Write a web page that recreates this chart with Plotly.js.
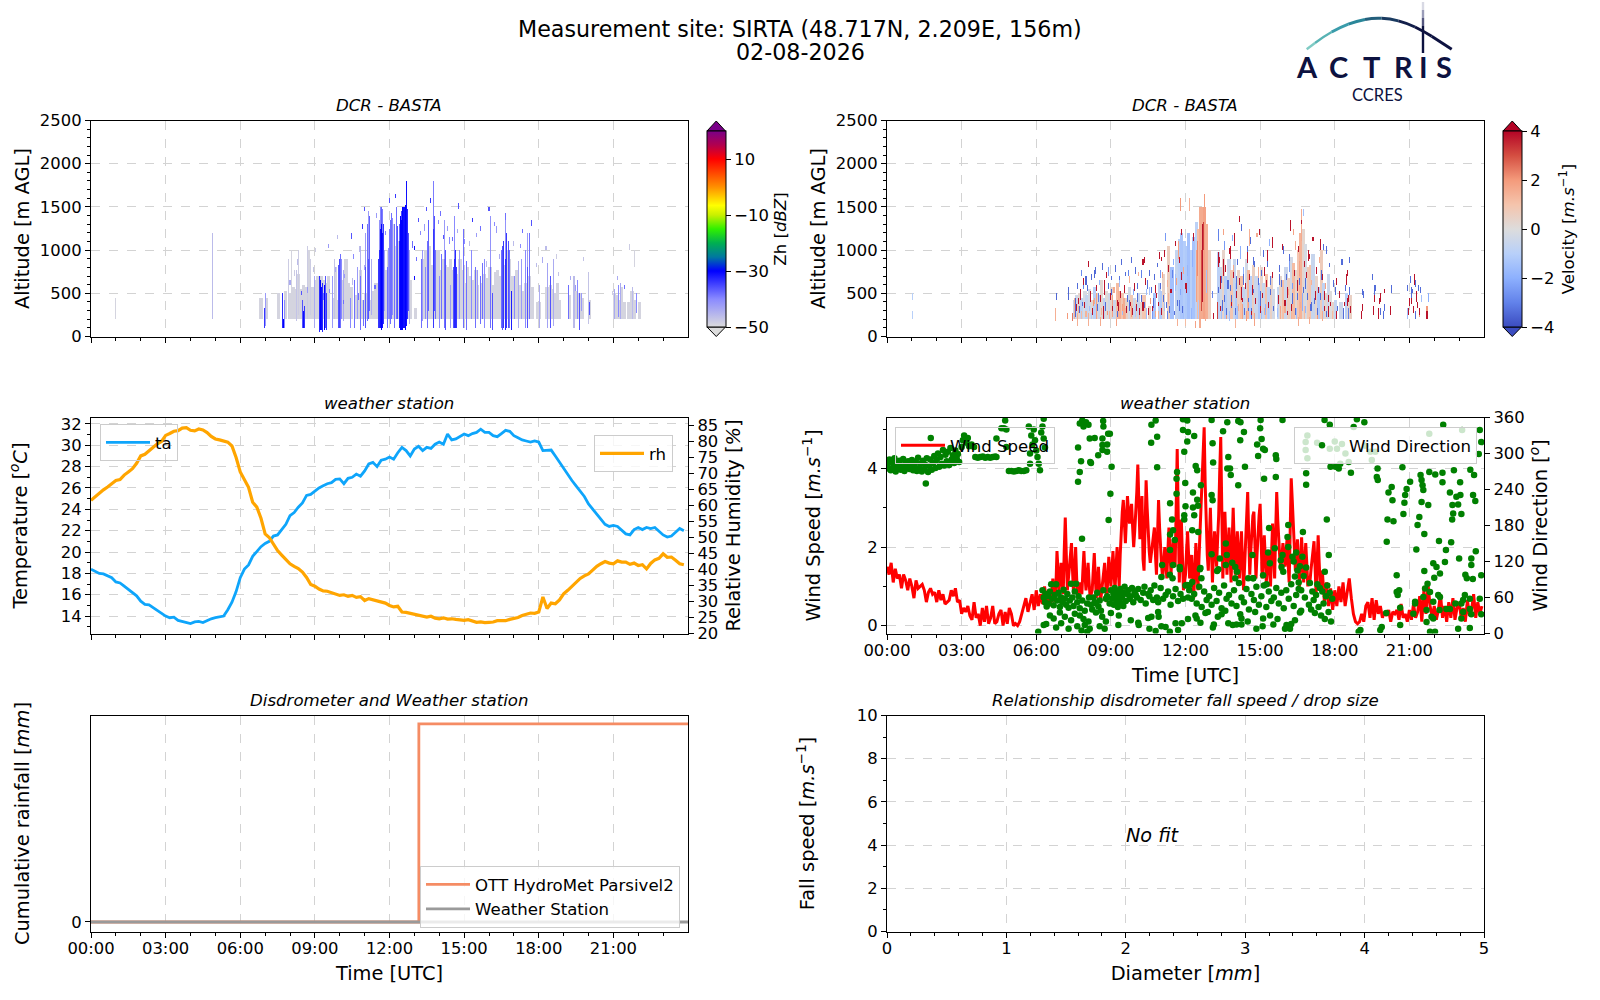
<!DOCTYPE html>
<html>
<head>
<meta charset="utf-8">
<script src="https://cdn.plot.ly/plotly-3.0.1.min.js"></script>
<style>body{margin:0;background:#fff}</style>
</head>
<body>
<div id="chart" style="width:1600px;height:1000px"></div>
<script>
// hour tick labels shared by the time axes
var hourTicks = [0, 3, 6, 9, 12, 15, 18, 21];
var hourLabels = ["00:00", "03:00", "06:00", "09:00", "12:00", "15:00", "18:00", "21:00"];
var hourMinor = [1, 2, 4, 5, 7, 8, 10, 11, 13, 14, 16, 17, 19, 20, 22, 23];

// radar reflectivity, top of the faint echo in metres, one value every 0.1 h from 06:42
var zhColumnStart = 6.7;
var zhColumnTop = [0, 430, 0, 440, 0, 0, 0, 0, 500, 0,
  0, 520, 0, 480, 560, 530, 720, 540, 600, 560,
  1000, 560, 560, 640, 680, 700, 640, 620, 680, 0,
  430, 800, 420, 400, 640, 880, 620, 560, 0, 460,
  500, 760, 420, 500, 0, 420, 520, 620, 0, 380,
  720, 760, 1000, 1200, 1300, 1050, 1100, 1000, 900, 760,
  700, 640, 0, 320, 0, 0, 900, 980, 780, 1050,
  820, 1000, 980, 760, 880, 820, 780, 900, 760, 800,
  720, 900, 760, 620, 780, 700, 640, 760, 600, 0,
  620, 720, 660, 780, 600, 740, 760, 700, 800, 820,
  1000, 900, 700, 640, 760, 580, 520, 620, 600, 700,
  560, 0, 400, 400, 0, 0, 560, 600, 540, 500,
  620, 420, 0, 0, 0, 460, 0, 520, 480, 500,
  430, 0, 0, 420, 0, 0, 0, 0, 0, 0,
  0, 0, 0, 480, 460, 420, 560, 400, 0, 400,
  520, 420, 0, 400];

// stronger echoes as vertical streaks (hours, metres, dBZ)
var zhStreakTime = [1.0, 4.88, 6.95, 7.0, 7.72, 7.75, 7.8, 7.95, 8.05, 8.25, 8.35, 8.48, 8.55, 8.6, 8.7, 8.85,
  9.0, 9.15, 9.2, 9.25, 9.3, 9.38, 9.42, 9.47, 9.7, 9.8, 9.95, 10, 10.05, 10.1, 10.17,
  10.4, 10.6, 10.7, 10.85, 10.95, 11.05, 11.12, 11.18, 11.22, 11.3,
  11.55, 11.6, 11.63, 11.67, 11.7, 11.74, 11.8, 11.9, 11.95, 12, 12.05, 12.1, 12.14, 12.2, 12.28, 12.35,
  12.42, 12.46, 12.5, 12.54, 12.58, 12.62, 12.66, 12.7, 12.74, 12.8,
  13.3, 13.35, 13.45, 13.55, 13.6, 13.77, 13.8, 13.85, 14, 14.1, 14.2, 14.25, 14.45, 14.6, 14.62, 14.66, 14.7, 14.85, 14.95,
  15.1, 15.3, 15.45, 15.55, 15.68, 15.75, 15.85, 16.05, 16.12, 16.48, 16.55, 16.6, 16.65, 16.68, 16.72, 16.78, 16.85, 16.9,
  17.05, 17.15, 17.3, 17.45, 17.55, 17.62, 18.05, 18.35, 18.45, 18.6, 19.2, 19.4, 19.55, 19.62, 19.7, 20, 20.05, 21.05, 21.2, 21.3, 21.75, 21.92, 21.85,
  11.63, 11.67, 11.7, 11.6, 12.5, 12.42, 10.85, 11.18, 11.05, 13.77, 14.62, 16.68, 16.05, 14.2, 16.65, 17.55];
var zhStreakBase = [200, 200, 100, 140, 120, 100, 110, 200, 300, 180, 260, 120, 100, 120, 200, 260,
  100, 60, 80, 90, 70, 80, 100, 90, 120, 210, 110, 120, 110, 200, 180,
  100, 120, 220, 90, 130, 100, 180, 200, 300, 250,
  120, 100, 110, 80, 100, 160, 300, 110, 200, 210, 150, 200, 260, 120, 220, 210,
  100, 80, 85, 90, 100, 80, 130, 200, 300, 160,
  100, 180, 210, 110, 300, 100, 300, 200, 100, 200, 100, 90, 100, 100, 100, 100, 120, 200, 100,
  90, 210, 120, 210, 150, 200, 100, 120, 90, 100, 90, 100, 85, 90, 100, 100, 100, 85,
  200, 120, 200, 100, 120, 220, 100, 120, 110, 130, 200, 110, 200, 90, 300, 160, 250, 220, 240, 220, 220, 280, 800,
  1250, 1300, 1200, 1000, 1350, 1100, 700, 900, 800, 1250, 900, 1100, 800, 900, 900, 800];
var zhStreakTop = [440, 1200, 320, 480, 500, 200, 420, 900, 1000, 760, 1000, 420, 280, 350, 1050, 880,
  700, 680, 650, 560, 620, 600, 680, 500, 700, 880, 820, 900, 950, 880, 760,
  450, 640, 800, 1050, 420, 1180, 1300, 1450, 1400, 900,
  900, 1350, 1480, 1500, 1470, 1300, 1000, 800, 1020, 1250, 1340, 1420, 1360, 1300, 1500, 1260,
  1300, 1380, 1450, 1500, 1500, 1520, 1780, 1460, 1200, 1000,
  900, 980, 800, 1100, 1340, 1780, 1400, 1000, 700, 950, 1350, 1000, 600, 780, 1400, 1000, 800, 1000, 1250,
  860, 1000, 800, 760, 700, 850, 900, 1400, 500, 1000, 1050, 1100, 1350, 1420, 1200, 1100, 1000, 520,
  700, 860, 900, 1000, 1200, 1180, 600, 840, 700, 900, 600, 700, 650, 500, 500, 750, 400, 550, 600, 620, 560, 500, 1000,
  1480, 1500, 1470, 1350, 1450, 1300, 1050, 1450, 1180, 1780, 1400, 1420, 1400, 1350, 1350, 1200];
var zhStreakValue = [-49, -46, -34, -42, -33, -30, -40, -48, -49, -47, -48, -36, -31, -34, -48, -48,
  -44, -33, -30, -31, -33, -30, -36, -34, -42, -47, -36, -35, -38, -40, -44,
  -40, -38, -42, -38, -38, -36, -38, -36, -37, -44,
  -34, -33, -31, -30, -31, -34, -43, -38, -41, -39, -38, -38, -40, -38, -38, -36,
  -32, -30, -30, -30, -31, -30, -31, -33, -36, -44,
  -38, -42, -40, -38, -37, -34, -36, -38, -40, -38, -38, -36, -42, -36, -33, -33, -34, -42, -38,
  -38, -40, -38, -42, -38, -38, -40, -38, -36, -38, -36, -34, -35, -33, -34, -36, -38, -32,
  -40, -44, -42, -40, -36, -38, -44, -43, -36, -44, -38, -46, -40, -36, -42, -47, -36, -44, -40, -44, -46, -40, -49,
  -40, -37, -39, -41, -35, -37, -45, -42, -42, -39, -40, -38, -41, -42, -41, -42];

// isolated radar gates above the main echo
var zhDotTime = [8.0, 8.15, 8.3, 8.45, 8.7, 8.95, 9.05, 9.35, 9.55, 9.6, 9.85, 9.9, 10.15, 10.2, 10.45, 10.5, 10.55, 10.75, 10.8, 10.9, 11.0, 11.02, 11.4, 11.45, 11.85, 12.0, 12.25, 12.9, 13.0, 13.02, 13.1, 13.15, 13.25, 13.4, 13.5, 13.65, 13.95, 14.05, 14.15, 14.35, 14.4, 14.55, 14.75, 14.8, 15.0, 15.2, 15.35, 15.5, 15.65, 15.9, 16.0, 16.2, 16.3, 16.4, 17.0, 17.25, 17.35, 17.7, 17.9, 18.15, 18.3, 18.7, 18.8, 19.3, 19.45, 19.8, 20.95, 21.15, 21.45, 21.65];
var zhDotAlt = [600, 720, 840, 480, 520, 760, 980, 440, 1030, 500, 760, 1130, 380, 680, 1140, 620, 900, 440, 990, 1250, 1460, 780, 560, 1380, 1180, 1560, 1600, 1040, 660, 1000, 880, 1330, 1180, 1240, 1460, 1560, 1300, 1400, 1130, 1230, 1090, 1100, 1210, 1490, 1080, 1050, 1330, 1150, 1230, 820, 1460, 1280, 1220, 900, 1060, 1030, 1210, 1290, 800, 870, 1000, 900, 700, 660, 540, 880, 480, 660, 560, 1020];
var zhDotValue = [-44, -48, -46, -36, -42, -47, -48, -38, -42, -40, -44, -46, -38, -42, -36, -46, -40, -38, -46, -34, -36, -44, -38, -42, -40, -36, -34, -38, -31, -31, -38, -36, -40, -42, -36, -34, -40, -38, -36, -42, -40, -38, -44, -36, -40, -46, -34, -42, -38, -46, -36, -40, -42, -44, -46, -40, -38, -36, -46, -44, -46, -48, -47, -44, -42, -47, -48, -44, -38, -48];

// radar Doppler velocity, one value every 0.1 h from 07:30 (metres, m/s)
var velColumnStart = 7.5;
var velColumnTop = [420, 460, 500, 440, 520,
  470, 540, 420, 560, 500, 470, 640, 430, 520, 480,
  560, 420, 620, 520, 480, 440, 430, 560, 460, 430,
  420, 500, 400, 460, 0, 340, 0, 480, 0, 620,
  520, 720, 0, 1050, 800, 0, 1000, 1120, 1200, 1100,
  1050, 1200, 1000, 1150, 1320, 1250, 1500, 1480, 1300, 1000,
  0, 0, 0, 960, 800, 1000, 700, 880, 760, 900,
  620, 760, 700, 560, 900, 760, 680, 820, 700, 620,
  800, 620, 720, 560, 680, 540, 0, 560, 700, 640,
  800, 660, 920, 840, 760, 1000, 1180, 1240, 1060, 780,
  820, 940, 700, 560, 1000, 620, 480, 720, 520, 400,
  420, 0, 380, 0, 500, 440, 460];
var velColumnValue = [-0.6, -0.4, 0.3, -0.8, -0.2,
  -0.7, -0.3, 0.2, -1.0, 0.4, -0.6, 0.2, -0.9, 0.1, -0.4,
  0.4, -0.5, 1.2, 1.5, 0.9, 1.6, 0.5, -0.3, 0.8, -0.5,
  0.5, -0.6, 0.3, 0.9, -0.4, 0.6, -0.9, -1.4, 0.2, -0.8,
  -1.2, 0.4, -1.4, 0.6, -1.5, 0.5, -0.7, -1.0, -1.3, -1.1,
  -1.2, -1.5, -1.0, -1.4, -0.9, 1.2, 1.6, 1.8, 1.5, 0.6,
  0, 0, 0, -0.9, -0.4, 0.4, -1.1, -0.5, 0.9, -0.6,
  -1.2, 0.5, 1.1, -0.7, -0.3, 1.3, -1.0, 0.6, -0.5, -1.3,
  0.4, -0.6, 1.0, -0.8, 0.5, -0.3, 0, -0.7, 0.3, 1.1,
  -0.5, 0.6, -0.3, 1.2, 0.2, 0.9, 1.4, 0.3, -0.2, 0.8,
  1.0, -0.6, 0.4, -1.2, 0.7, -0.8, 0.3, -0.5, 0, 0.4,
  -0.7, 0.3, -0.5, 0.8, -1.0, 0.2, 0.5];

var velStreakTime = [1.05, 1.03, 6.8, 6.85, 7.25, 7.3, 7.45, 7.55, 7.6, 7.65, 7.7, 7.75, 7.8, 7.85, 7.9, 7.95, 8.0, 8.1, 8.15, 8.2, 8.3, 8.35, 8.4, 8.5, 8.6, 8.7, 8.75, 8.8, 8.9, 8.95,
  9.05, 9.1, 9.2, 9.3, 9.35, 9.45, 9.55, 9.6, 9.7, 9.75, 9.85, 9.95, 10.0, 10.1, 10.15, 10.25, 10.3, 10.35, 10.4, 10.45, 10.55, 10.65, 10.7, 10.8, 10.9, 10.95, 11.0, 11.05, 11.15, 11.2, 11.3, 11.35, 11.45,
  11.6, 11.65, 11.7, 11.75, 11.8, 11.85, 11.9, 12, 12.05, 12.1, 12.15, 12.25, 12.3, 12.35, 12.42, 12.46, 12.5, 12.54, 12.58, 12.62, 12.66, 12.7, 12.75, 12.8, 12.85, 13.1, 13.12,
  13.3, 13.32, 13.35, 13.4, 13.45, 13.5, 13.55, 13.6, 13.65, 13.7, 13.75, 13.8, 13.85, 13.9, 13.95, 14, 14.05, 14.1, 14.15, 14.2, 14.25, 14.3, 14.35, 14.45, 14.5, 14.55, 14.6, 14.65, 14.7, 14.75, 14.8, 14.9, 14.95, 15.0, 15.05, 15.15, 15.2, 15.3, 15.35, 15.4, 15.5,
  15.7, 15.75, 15.8, 15.85, 15.95, 16.0, 16.1, 16.15, 16.2, 16.25, 16.3, 16.4, 16.45, 16.5, 16.55, 16.6, 16.65, 16.7, 16.75, 16.8, 16.85, 16.95, 17.0, 17.1, 17.2, 17.3, 17.4, 17.45, 17.5, 17.6, 17.65, 17.75,
  17.9, 18.05, 18.1, 18.35, 18.45, 18.5, 18.55, 18.6, 19.1, 19.15, 19.55, 19.6, 19.75, 19.85, 19.95, 20.25, 20.3, 20.9, 21.0, 21.1, 21.2, 21.25, 21.3, 21.4, 21.45, 21.7, 21.75];
var velStreakBase = [200, 440, 190, 430, 200, 440, 180, 200, 240, 140, 380, 280, 440, 210, 560, 330, 620, 140, 420, 200, 350, 680, 220, 420, 130, 220, 560, 300, 700, 200,
  480, 240, 130, 300, 640, 260, 500, 220, 700, 320, 240, 540, 230, 400, 200, 680, 300, 870, 200, 560, 480, 200, 340, 520, 200, 900, 680, 880, 300, 1100, 200, 380, 680,
  540, 130, 900, 300, 1450, 650, 210, 130, 500, 700, 1450, 200, 800, 1100, 100, 400, 700, 200, 120, 300, 400, 1000, 1500, 180, 500, 450, 200,
  200, 800, 1100, 560, 210, 300, 700, 1000, 200, 560, 180, 900, 330, 700, 1060, 100, 560, 210, 1340, 900, 430, 210, 620, 180, 850, 300, 1050, 210, 490, 830, 140, 650, 1180, 360, 210, 700, 260, 880, 200, 600, 1040,
  230, 380, 610, 200, 950, 290, 470, 760, 1240, 200, 380, 1000, 220, 530, 140, 720, 1100, 320, 1400, 220, 570, 880, 160, 300, 430, 210, 1000, 650, 180, 440, 960, 240,
  200, 480, 210, 220, 620, 350, 220, 490, 220, 460, 250, 480, 200, 420, 200, 250, 500, 200, 350, 450, 600, 220, 400, 240, 500, 200, 400];
var velStreakTop = [300, 490, 320, 500, 260, 560, 260, 440, 450, 260, 430, 330, 530, 300, 660, 400, 700, 260, 520, 270, 410, 760, 500, 500, 220, 330, 640, 390, 780, 280,
  540, 470, 200, 380, 700, 340, 580, 320, 770, 420, 340, 620, 350, 480, 300, 770, 400, 920, 320, 640, 560, 300, 450, 600, 280, 960, 760, 920, 400, 1180, 300, 480, 760,
  720, 180, 1100, 420, 1600, 740, 340, 200, 620, 820, 1600, 320, 1000, 1200, 170, 1000, 1100, 420, 180, 1000, 1300, 1320, 1640, 300, 760, 520, 260,
  400, 960, 1240, 700, 330, 420, 880, 1100, 300, 640, 300, 1040, 460, 820, 1180, 200, 680, 340, 1400, 1040, 560, 360, 760, 280, 1000, 440, 1240, 320, 590, 920, 260, 780, 1240, 520, 300, 780, 360, 1000, 310, 700, 1130,
  310, 470, 710, 290, 1030, 380, 560, 860, 1340, 320, 480, 1080, 320, 640, 220, 860, 1460, 480, 1460, 340, 660, 1000, 220, 400, 520, 300, 1120, 760, 300, 520, 1050, 340,
  290, 560, 300, 310, 720, 440, 310, 560, 290, 520, 330, 580, 320, 500, 280, 350, 580, 320, 440, 560, 720, 300, 520, 320, 560, 300, 480];
var velStreakValue = [-1, -1, 1.5, -3.5, 2, -3.5, 2.5, 1.5, -3.5, 1.5, 3.8, -3.5, 3.8, 1.2, -3, 3.8, -3.5, 1.5, 3.8, -1.2, 2, -3.5, 1.8, -3, 1.6, 3.8, 3.8, -3.5, -2.5, 1.4,
  -3.5, 1.8, 1.8, 3.8, -3.2, -1.5, 3.8, 1.4, -3, -3.4, 2, 3.8, -1.2, -3.4, 1.5, -3, 3.8, 3.8, -1.5, -3.4, -1.5, -2.5, -3.4, 3.8, 1.4, 3.8, -2.5, 3.8, -1.5, -2.5, -3, 1.5, -3,
  -1.5, 1.5, 1.8, -3.2, 2, 3.8, -1.5, 1.2, 3.8, -1.8, 1.5, -1.8, -2, 3.8, 1.8, 1.8, 2.2, -1.2, 1.6, 3, 3.8, 3.2, 2, 1.6, -1.5, -3, 3.8,
  3.2, 3.8, -3, 3.8, -1.5, -3.4, 3.8, -2.5, 2, -3.4, -1.5, 3.8, -3.4, 1.6, 3.8, 1.4, -3.4, -1.5, 3.8, -2, 3.8, 1.8, -3.4, 2, 3.8, -3.4, 1.5, -3.4, 3.8, -3.4, 1.8, 1.5, 3.8, -3.4, -1.5, 3.8, -2, 3.8, -1.2, -3.2, 3.8,
  -1.5, 3.8, -3.4, 1.6, -3.4, 1.6, 3.8, -2.5, 3.8, 1.4, -3.4, 1.6, -1.5, 3.8, 1.6, 1.8, 1.6, -2, -1.5, 1.2, -3.4, 3.8, 1.6, -3.4, 3.8, 2, 3.8, -3.4, 1.6, 3.8, -3.4, 3.8,
  1.2, -3.4, 3.8, -3.4, 3.8, 3.8, -3, -3.4, 3.8, -3.4, 3.8, -3.4, 3.8, 3.8, -3.4, 3.8, -3.4, -1.5, 3.8, -3.4, 3.8, -3.4, 3.8, 2, -3.4, 3.8, -2];

var velDotTime = [7.62, 7.68, 7.72, 7.78, 7.83, 7.87, 7.93, 7.98, 8.03, 8.07, 8.13, 8.18, 8.22, 8.27, 8.33, 8.38, 8.43, 8.47, 8.53, 8.57, 8.63, 8.67, 8.73, 8.78, 8.83, 8.87, 8.93, 8.98,
  9.03, 9.08, 9.13, 9.17, 9.23, 9.27, 9.33, 9.38, 9.43, 9.47, 9.53, 9.58, 9.63, 9.67, 9.73, 9.78, 9.83, 9.87, 9.93, 9.98,
  10.03, 10.08, 10.13, 10.18, 10.23, 10.28, 10.33, 10.38, 10.43, 10.48, 10.53, 10.58, 10.63, 10.68, 10.73, 10.78, 10.83, 10.88, 10.93, 10.98,
  11.03, 11.08, 11.13, 11.18, 11.23, 11.28, 11.33, 11.38, 11.43, 11.48, 11.53, 11.58, 11.63, 11.68, 11.73, 11.78, 11.83, 11.88, 11.93, 11.98,
  13.33, 13.37, 13.43, 13.47, 13.53, 13.58, 13.63, 13.67, 13.73, 13.78, 13.83, 13.87, 13.93, 13.98,
  14.03, 14.08, 14.13, 14.18, 14.23, 14.28, 14.33, 14.38, 14.43, 14.48, 14.53, 14.58, 14.63, 14.68, 14.73, 14.78, 14.83, 14.88, 14.93, 14.98,
  15.03, 15.08, 15.13, 15.18, 15.23, 15.28, 15.33, 15.38, 15.43, 15.48, 15.53, 15.73, 15.78, 15.83, 15.88, 15.93, 15.98,
  16.03, 16.08, 16.13, 16.18, 16.23, 16.28, 16.33, 16.38, 16.43, 16.48, 16.53, 16.58, 16.63, 16.68, 16.73, 16.78, 16.83, 16.88, 16.93, 16.98,
  17.03, 17.08, 17.13, 17.18, 17.23, 17.28, 17.33, 17.38, 17.43, 17.48, 17.53, 17.58, 17.63, 17.68, 17.73, 17.78, 17.85, 17.95,
  18.07, 18.13, 18.2, 18.28, 18.38, 18.42, 18.48, 18.53, 18.58, 18.63, 19.12, 19.14, 19.5, 19.57, 19.62, 19.78, 19.82, 19.98, 20.02, 20.92, 20.97, 21.03, 21.08, 21.13, 21.18, 21.23, 21.28, 21.33, 21.38, 21.43, 21.48, 21.72];
var velDotAlt = [320, 560, 280, 470, 720, 350, 610, 240, 530, 810, 300, 460, 660, 260, 390, 730, 540, 310, 600, 420, 270, 780, 480, 340, 690, 250, 570, 430,
  650, 300, 520, 760, 370, 240, 590, 460, 830, 310, 510, 700, 280, 420, 640, 350, 860, 260, 480, 740,
  310, 560, 700, 260, 420, 830, 340, 610, 480, 260, 720, 390, 520, 300, 660, 230, 450, 800, 350, 570,
  260, 680, 410, 940, 330, 590, 760, 280, 500, 840, 250, 1050, 620, 360, 870, 480, 1180, 290, 730, 560,
  520, 860, 300, 640, 1180, 420, 760, 260, 960, 540, 350, 1120, 680, 260,
  470, 830, 310, 620, 1240, 400, 740, 270, 560, 980, 340, 660, 1090, 250, 500, 820, 380, 1150, 610, 290,
  720, 450, 930, 270, 580, 810, 340, 1060, 480, 690, 300, 420, 760, 280, 590, 1020, 360,
  660, 250, 480, 880, 310, 560, 1180, 720, 270, 430, 990, 620, 340, 1300, 520, 810, 280, 690, 440, 900,
  310, 600, 1100, 380, 740, 260, 520, 870, 430, 670, 1010, 300, 560, 240, 410, 800, 350, 580,
  620, 300, 460, 830, 350, 540, 720, 410, 860, 290, 480, 320, 670, 420, 540, 380, 260, 500, 320, 540, 260, 640, 380, 500, 290, 580, 440, 330, 540, 260, 410, 300];
var velDotValue = [3.8, -3.4, 1.5, 3.8, -2.8, -3.4, 3.8, 1.4, -3.4, 3.8, -1.5, 3.8, -3.4, 3.8, 1.6, -3.4, 3.8, -3.4, -1.8, 3.8, 1.5, -3.4, 3.8, -3.4, 3.8, 2, -3.4, 3.8,
  -3.4, 3.8, 1.6, -3.4, 3.8, -3.4, -1.5, 3.8, -3.4, 1.8, 3.8, -3.4, 3.8, -3.4, 1.4, 3.8, -3.4, 3.8, -2, -3.4,
  3.8, -3.4, 1.5, 3.8, -3.4, 3.8, -3.4, 3.8, -1.6, 3.8, -3.4, 2, -3.4, 3.8, -3.4, 1.6, 3.8, -3.4, 3.8, -3.4,
  3.8, 1.8, -3.4, 3.8, -3.4, 1.5, 3.8, -3.4, 3.8, -2, -3.4, 3.8, 1.8, -3.4, 3.8, -2.2, 3.8, -3.4, 1.6, 3.8,
  -3.4, 3.8, 3.8, -3.4, 1.8, -3.4, 3.8, -3.4, 3.8, -3.4, 3.8, -2, 3.8, -3.4,
  3.8, -3.4, 1.5, 3.8, -3.4, 3.8, -2, -3.4, 3.8, -3.4, 1.8, 3.8, -3.4, 3.8, -3.4, -3.4, 3.8, 1.6, -3.4, 3.8,
  -3.4, 3.8, -3.4, 1.5, 3.8, -3.4, 3.8, -2, -3.4, 3.8, -3.4, 3.8, -3.4, 1.8, -3.4, 3.8, 3.8,
  -3.4, 3.8, 1.6, -3.4, 3.8, -2.4, 1.8, 3.8, -3.4, -3.4, 3.8, -3.4, 1.6, 3.8, -3.4, 3.8, -1.8, 3.8, -3.4, 3.8,
  -3.4, 1.5, 3.8, -3.4, 3.8, -3.4, 3.8, 1.6, -3.4, 3.8, -3.4, 3.8, 1.8, -3.4, 3.8, -3.4, 3.8, -3.4,
  3.8, -3.4, 3.8, -3.4, 3.8, -3.4, 3.8, 3.8, -3.4, 3.8, -3.4, 3.8, -3.4, 3.8, -3.4, 3.8, -3.4, 3.8, -3.4, -3.4, 3.8, -3.4, 3.8, -3.4, 3.8, -3.4, 3.8, 3.8, -3.4, 3.8, -1.5, 2];

// weather station, one value every 10 minutes
var temperature = [18.4, 18.2, 18.0, 17.95, 17.8, 17.6,
  17.2, 17.1, 16.8, 16.5, 16.2, 15.9,
  15.4, 15.1, 15.05, 14.8, 14.5, 14.3,
  14.0, 13.85, 13.9, 13.6, 13.5, 13.4,
  13.3, 13.45, 13.5, 13.4, 13.6, 13.75,
  13.85, 13.9, 14.0, 14.6, 15.3, 16.3,
  17.6, 18.4, 18.8, 19.6, 20.0, 20.5,
  20.8, 21.0, 21.5, 21.6, 22.1, 22.6,
  23.4, 23.7, 24.2, 24.6, 25.3, 25.4,
  25.7, 26.0, 26.2, 26.4, 26.5, 26.8,
  26.85, 26.4, 26.9, 27.0, 27.3, 27.1,
  27.6, 28.25, 28.4, 28.0, 28.6, 28.7,
  28.9, 28.7, 29.3, 29.8, 29.5, 29.0,
  29.65, 29.9, 29.5, 29.8, 29.7, 30.1,
  30.3, 30.1, 31.05, 30.5, 30.6, 30.8,
  31.05, 30.9, 31.1, 31.2, 31.5, 31.2,
  31.2, 30.9, 30.8, 31.1, 31.4, 31.3,
  30.9, 30.7, 30.5, 30.4, 30.3, 30.4,
  30.3, 29.5, 29.5, 29.55, 29.0, 28.4,
  27.9, 27.3, 26.7, 26.2, 25.7, 25.2,
  24.5, 24.0, 23.6, 23.1, 22.6, 22.4,
  22.5, 22.4, 22.0, 21.7, 21.6, 22.1,
  22.3, 22.1, 22.3, 22.2, 22.3, 21.9,
  21.6, 21.4, 21.5, 21.85, 22.2, 22.0];
var humidity = [61.6, 62.8, 63.9, 64.9, 65.8, 66.9,
  67.8, 68.1, 69.5, 70.5, 71.5, 73.2,
  75.5, 76.0, 77.1, 78.2, 79.3, 80.0,
  81.9, 82.5, 83.2, 83.4, 84.2, 84.3,
  83.5, 83.3, 83.9, 83.6, 82.8, 81.6,
  80.8, 80.5, 80.1, 79.8, 78.6, 75.0,
  70.5, 68.0, 65.7, 61.0, 59.5, 56.0,
  51.1, 50.0, 47.8, 45.9, 44.5, 43.2,
  41.8, 41.0, 40.3, 39.2, 37.5, 35.3,
  34.8, 33.9, 33.3, 33.2, 32.8, 32.4,
  31.9, 32.1, 31.6, 31.9, 31.3, 31.5,
  30.3, 30.9, 30.5, 30.3, 29.9, 29.5,
  28.75, 28.3, 28.5, 26.7, 26.6, 26.3,
  26.1, 25.9, 25.4, 25.1, 25.4, 24.8,
  24.6, 24.9, 24.5, 24.6, 24.4, 24.2,
  24.1, 24.3, 23.9, 23.5, 23.6, 23.4,
  23.5, 23.6, 24.0, 24.1, 24.0, 24.4,
  24.6, 25.0, 25.6, 26.1, 26.4, 26.3,
  26.7, 31.4, 27.8, 29.5, 29.3, 30.5,
  32.4, 33.5, 34.8, 36.0, 37.2, 38.0,
  38.6, 39.8, 41.0, 41.8, 42.5, 42.0,
  41.8, 42.7, 42.3, 42.3, 41.6, 42.0,
  41.25, 41.5, 40.2, 41.9, 43.0, 43.5,
  44.9, 43.8, 43.9, 42.9, 41.8, 41.5];

// wind speed, one value every 5 minutes
var windSpeed = [1.5, 1.3, 1.6, 1.1, 1.45, 1.2, 1.3, 0.95, 1.3, 1.15, 0.9, 1.2,
  1.0, 0.7, 1.15, 0.95, 1.0, 1.05, 0.9, 0.6, 0.85, 0.95, 0.8, 0.85,
  0.6, 0.9, 0.65, 0.8, 0.55, 0.6, 0.65, 0.9, 0.75, 0.95, 0.6, 0.65,
  0.3, 0.45, 0.35, 0.5, 0.25, 0.15, 0.6, 0.2, 0.3, 0.0, 0.45, 0.1,
  0.5, 0.05, 0.2, 0.5, 0.05, 0.1, 0.3, 0.4, 0.0, 0.35, 0.05, 0.45,
  0.3, 0.0, 0.05, 0.0, 0.1, 0.3, 0.5, 0.7, 0.35, 0.6, 0.8, 0.4,
  0.9, 0.5, 0.8, 0.55, 1.0, 0.6, 0.75, 0.5, 1.2, 0.6, 1.9, 0.9,
  1.6, 0.8, 2.75, 0.9, 1.5, 2.1, 0.8, 2.0, 0.7, 1.1, 0.8, 1.9,
  0.9, 1.6, 0.7, 0.9, 1.85, 0.7, 1.5, 0.6, 1.1, 1.6, 0.6, 1.75,
  1.0, 1.9, 0.9, 2.0, 1.0, 2.6, 3.2, 2.1, 3.3, 2.6, 3.1, 2.0,
  2.8, 4.1, 2.2, 3.3, 1.4, 3.7, 2.3, 1.6, 2.0, 2.5, 1.3, 3.2,
  1.9, 1.2, 2.0, 1.2, 2.5, 1.3, 2.2, 1.5, 4.5, 1.1, 2.7, 0.9,
  1.3, 2.4, 1.2, 1.8, 0.7, 2.1, 0.9, 2.4, 4.0, 5.05, 2.2, 1.4,
  3.0, 1.1, 2.4, 1.5, 2.8, 4.8, 1.2, 2.9, 1.3, 2.5, 1.1, 3.0,
  1.3, 2.4, 1.2, 2.4, 0.9, 2.1, 3.4, 1.3, 2.5, 2.9, 1.2, 2.4,
  3.1, 1.2, 2.3, 1.1, 1.9, 1.0, 2.6, 1.2, 3.4, 2.0, 1.4, 2.1,
  1.5, 2.2, 1.1, 3.75, 2.7, 1.4, 2.2, 1.0, 2.25, 1.1, 2.1, 1.0,
  1.1, 1.7, 2.15, 0.8, 2.3, 1.0, 1.4, 0.6, 1.1, 0.5, 0.95, 0.4,
  0.9, 0.5, 1.0, 0.6, 1.1, 0.5, 0.8, 1.2, 0.7, 0.3, 0.1, 0.05,
  0.1, 0.3, 0.1, 0.5, 0.6, 0.2, 0.7, 0.15, 0.65, 0.3, 0.5, 0.2,
  0.35, 0.25, 0.4, 0.1, 0.35, 0.3, 0.4, 0.15, 0.55, 0.2, 0.3, 0.1,
  0.4, 0.15, 0.55, 0.2, 0.35, 0.75, 0.1, 0.9, 0.3, 1.05, 0.5, 0.2,
  0.5, 0.15, 0.4, 0.8, 0.2, 0.5, 0.1, 0.6, 0.2, 0.7, 0.15, 0.45,
  0.6, 0.2, 0.45, 0.1, 0.65, 0.25, 0.4, 0.8, 0.2, 0.6, 0.3, 0.5];

// gusty part of the day, the samples between the 5 minute ones (06:00 to 18:00)
var windBetweenStart = 6;
var windBetween = [0.7, 0.65, 0.7, 0.8, 0.8, 0.75, 0.6, 0.85, 0.9, 1.0, 1.4, 1.2,
  1.1, 1.9, 1.8, 1.2, 1.8, 1.4, 1.4, 1.2, 0.9, 0.95, 1.4, 1.3,
  1.2, 1.1, 0.8, 1.4, 1.2, 1.1, 1.0, 0.85, 1.4, 1.1, 1.2, 1.4,
  1.4, 1.4, 1.5, 1.5, 1.8, 2.9, 2.7, 2.7, 2.9, 2.9, 2.5, 2.4,
  3.4, 3.1, 2.8, 1.7, 2.5, 3.0, 1.9, 1.8, 2.3, 1.8, 2.3, 2.5,
  1.5, 1.6, 1.6, 1.9, 1.9, 1.8, 1.8, 3.0, 2.8, 1.9, 1.8, 1.1,
  1.9, 1.8, 1.5, 1.2, 1.4, 1.5, 1.7, 3.2, 4.6, 3.6, 1.8, 2.3,
  2.0, 1.8, 2.0, 2.2, 3.9, 3.0, 2.0, 2.1, 1.9, 1.8, 2.1, 2.1,
  1.8, 1.8, 1.9, 1.6, 1.5, 2.8, 2.3, 1.9, 2.8, 2.0, 1.8, 2.8,
  2.1, 1.8, 1.7, 1.5, 1.5, 1.8, 1.9, 2.4, 2.7, 1.7, 1.8, 1.8,
  1.9, 1.6, 2.4, 3.2, 2.0, 1.8, 1.6, 1.6, 1.7, 1.6, 1.6, 1.2,
  1.4, 1.9, 1.5, 1.6, 1.6, 1.2, 1.0, 0.85, 0.8, 0.75, 0.65, 0.65];

// wind direction samples (hour, degrees)
var dirTime = [0.0, 0.05, 0.1, 0.15, 0.2, 0.25, 0.3, 0.35, 0.4, 0.45, 0.5, 0.55, 0.6, 0.65, 0.7, 0.75, 0.8, 0.85, 0.9, 0.95,
  1.0, 1.05, 1.1, 1.15, 1.2, 1.25, 1.3, 1.35, 1.4, 1.45, 1.5, 1.56, 1.55, 1.6, 1.65, 1.7, 1.76, 1.75, 1.8, 1.85, 1.9, 1.95,
  2.0, 2.05, 2.1, 2.15, 2.2, 2.25, 2.3, 2.35, 2.4, 2.45, 2.5, 2.55, 2.6, 2.65, 2.7, 2.75, 2.8, 2.85, 2.9,
  3.0, 3.05, 3.1, 3.2, 3.25, 3.3, 3.4, 3.5, 3.55, 3.65, 3.75, 3.85, 3.95, 4.05, 4.15, 4.25, 4.35, 4.4, 4.4, 4.75, 4.7, 4.6, 4.8,
  4.8, 4.9, 5.0, 5.1, 5.2, 5.3, 5.4, 5.5, 5.6, 5.75, 5.7, 5.75, 5.8, 5.85, 5.9, 5.95, 6.0, 6.05, 6.1, 6.15, 6.2, 6.25, 6.3, 6.35, 6.3,
  7.75, 7.85, 7.9, 8.0, 8.1, 7.68, 7.8, 7.75, 7.68, 7.84, 8.15, 8.17,
  8.69, 8.7, 8.89, 8.96, 8.35, 8.66, 8.66, 8.85, 8.66, 8.85, 8.49, 8.2, 9.03, 8.98, 8.91,
  10.63, 10.8, 10.86, 10.62, 10.86, 11.66, 11.64, 11.64, 11.38, 11.46, 11.38, 11.5, 11.57, 11.38,
  11.9, 12.07, 11.9, 12.1, 12.35, 12.07, 11.95, 11.99, 12.3, 12.47, 12, 12.3, 12.5, 11.95, 12.35, 11.95, 12.27, 12.51,
  12.41, 12.47, 12.62, 13.05, 13.09, 13.09, 13.11, 13.05, 13.51, 13.72, 13.68, 13.79, 13.82, 14.12, 13.68, 14.12, 14.21, 14.35, 14.2, 14.39,
  14.88, 14.92, 15.02, 15, 15.06, 15.12, 15.19, 15.16, 15.63, 15.65, 15.63, 15.9, 15.36, 16.13, 16.1,
  17.59, 17.8, 18.89, 19.19, 18.76, 16.9, 16.83, 16.83, 16.9, 17.29, 18, 17.8, 18.09, 18.29, 18.43, 19.23, 19.43, 19.63, 19.49, 18.56, 18.22, 17.83, 18.03, 18.16, 18.65, 19.72, 19.69, 19.73, 16.85, 16.85, 17.68, 16.72, 20.09, 17.76, 17.6,
  20.72, 21.45, 21.49, 21.53, 21.56, 21.03, 20.89, 20.29, 20.16, 20.83, 20.32, 20.8, 20.76, 20.12, 20.36, 21.4, 21.33, 21.6, 21.76, 21.49, 21.8, 22.04, 22.33, 22.33, 22.79, 23.04, 23.45, 23.6, 22.63, 22.89, 23.05, 23.56, 23.65, 22.73, 22.96, 22.76, 23.09, 22.72, 23.83, 23.89, 23.79, 23.12, 21.8, 22.36,
  22.19, 22.68, 21.28, 22.47, 23.67, 23, 23.49, 21.96, 22.43, 22.09, 23.49, 21.6, 22.23, 20.49, 22, 23.25, 23.89, 23.31, 23.55, 21.73, 20.49, 20.59, 20.53,
  21.63, 21.83, 22.16, 23.23, 22.23, 21.23, 21.23, 21.56, 21.96, 23.16, 23.43, 23.83, 22.85, 23.09, 22.49, 22.63, 20.63, 20.07, 21.69, 21.16, 22.21, 21.89, 23.16, 23.43, 23.49, 23.89, 21.69, 21.96, 23.09, 20.63, 19.89, 19.83, 19.03, 18.96, 21.83, 22.03, 22.96, 23.43,
  6.08, 6.25, 6.3, 6.35, 6.38, 6.42, 6.48, 6.5, 6.55, 6.6, 6.65, 6.7, 6.75, 6.8, 6.85, 6.9, 6.95, 7.0, 7.05, 7.1, 7.15, 7.2, 7.25, 7.3, 7.35, 7.4, 7.45, 7.5, 7.55, 7.6, 7.65, 7.7, 7.75, 7.85, 7.95, 8.05, 8.12,
  6.3, 6.4, 6.55, 6.7, 6.8, 6.95, 7.0, 7.15, 7.3, 7.4, 7.55, 7.65, 7.75, 7.82, 7.9, 7.95, 8.05, 8.1, 8.15,
  8.2, 8.25, 8.3, 8.35, 8.4, 8.45, 8.5, 8.55, 8.6, 8.7, 8.8, 8.85, 8.95, 9.0, 9.05, 9.1, 9.12, 9.15, 9.2, 9.22, 9.25, 9.28, 9.3, 9.35, 9.38, 9.4, 9.45, 9.48, 9.5, 9.55, 9.6, 9.65, 9.7, 9.75, 9.8, 9.85, 9.9, 9.95, 10.0, 10.05, 10.1, 10.2, 10.3, 10.35, 10.4, 10.5, 10.55, 10.6, 10.7, 10.75, 10.85, 10.9, 11.0, 11.1, 11.2, 11.3, 11.4, 11.5, 11.6, 11.7, 11.8, 11.9, 12.0,
  8.4, 8.55, 8.65, 8.75, 8.8, 9.0, 9.3, 9.32, 9.8, 10.1, 10.12, 10.5, 10.55, 10.8, 10.9, 10.92, 11.03, 11.2, 11.37, 11.6, 11.7, 11.85, 12.1, 12.45, 12.9, 13.14, 13.45, 13.72, 14.05, 14.25, 14.25, 14.85, 15.12, 15.53, 16, 16.06,
  10.63, 11.03, 11.37, 11.5, 11.77, 11.06, 11.77, 11.48, 12.17, 12.27, 12.6, 12.58, 12.64, 13.05, 13.32, 13.27, 13.38, 13.62, 13.88, 13.66, 14, 14.07, 13.62, 14, 14.72, 14.69, 15.39, 15.32, 15.83, 15.9, 16.13, 15.59, 15.86, 15.93, 15.26, 14.72, 14.52, 15.12,
  12.05, 12.15, 12.25, 12.35, 12.45, 12.55, 12.65, 12.75, 12.85, 12.95, 13.05, 13.15, 13.25, 13.35, 13.45, 13.55, 13.65, 13.75, 13.85, 13.95, 14.05, 14.15, 14.25, 14.35, 14.45, 14.55, 14.65, 14.75, 14.85, 14.95, 15.05, 15.15, 15.25, 15.35, 15.45, 15.55, 15.65, 15.75, 15.85, 15.95, 16.05, 16.15, 16.25, 16.35, 16.45, 16.55, 16.65,
  12.1, 12.4, 12.6, 12.8, 13.1, 13.3, 13.6, 13.9, 14.2, 14.5, 14.8, 15.1, 15.4, 15.7, 16.2, 16.4, 16.6,
  16.25, 16.3, 16.35, 16.4, 16.45, 16.5, 16.55, 16.6, 16.65, 16.7, 16.75, 16.8, 16.85, 16.96, 17.0, 17.05, 17.1, 17.15, 17.2, 17.25, 17.3, 17.35, 17.4, 17.45, 17.5, 17.55, 17.6, 17.65, 17.7, 17.75, 17.8, 17.85, 17.9];
var dirValue = [282, 275, 290, 272, 285, 278, 292, 270, 283, 276, 288, 273, 280, 291, 271, 284, 277, 287, 274, 282,
  289, 272, 279, 286, 271, 293, 276, 283, 270, 288, 274, 250, 281, 292, 269, 279, 326, 290, 273, 284, 296, 276,
  289, 300, 278, 294, 283, 306, 280, 298, 287, 303, 281, 309, 290, 297, 284, 305, 292, 299, 286,
  311, 322, 330, 318, 326, 312, 315, 311, 294, 293, 294, 295, 293, 294, 293, 294, 295, 294, 325, 355, 342, 342, 340,
  311, 271, 271, 270, 271, 272, 271, 271, 272, 283, 345, 300, 330, 315, 340, 322, 305, 294, 283, 272, 335, 345, 325, 310, 358,
  350, 355, 345, 352, 348, 310, 287, 269, 253, 158, 325, 286,
  354, 345, 333, 333, 326, 325, 314, 315, 306, 303, 297, 284, 278, 233, 189,
  348, 355, 328, 318, 277, 269, 258, 233, 217, 190, 165, 172, 156, 139,
  357, 355, 339, 336, 329, 320, 303, 251, 235, 223, 212, 210, 213, 197, 197, 190, 172, 169,
  279, 272, 247, 231, 222, 317, 285, 356, 337, 294, 275, 275, 264, 247, 352, 354, 352, 336, 322, 278,
  315, 296, 356, 342, 324, 308, 306, 258, 297, 291, 261, 356, 176, 181, 161,
  356, 348, 357, 352, 344, 330, 319, 306, 292, 318, 320, 308, 308, 316, 300, 313, 303, 303, 289, 286, 283, 278, 278, 275, 268, 275, 261, 256, 267, 248, 190, 169, 153, 131, 103,
  277, 264, 256, 247, 239, 253, 241, 244, 235, 231, 222, 218, 199, 190, 187, 194, 181, 166, 214, 219, 269, 265, 268, 252, 272, 252, 273, 264, 235, 228, 231, 231, 221, 214, 215, 200, 199, 190, 339, 319, 299, 339, 333, 348,
  154, 152, 140, 139, 137, 125, 125, 117, 119, 111, 114, 104, 100, 97, 93, 98, 97, 92, 91, 83, 69, 72, 64,
  75, 69, 64, 64, 61, 53, 50, 61, 53, 56, 58, 58, 50, 50, 41, 41, 43, 34, 39, 33, 39, 28, 36, 41, 32, 32, 19, 25, 25, 14, 11, 6, 6, 3, 3, 3, 8, 9,
  3, 72, 60, 52, 66, 45, 62, 50, 70, 82, 58, 47, 64, 82, 55, 68, 44, 60, 52, 73, 58, 48, 66, 43, 55, 83, 60, 46, 70, 83, 52, 62, 42, 55, 38, 50, 60,
  14, 16, 30, 25, 10, 35, 17, 28, 8, 22, 33, 12, 30, 5, 24, 14, 3, 20, 8,
  48, 40, 60, 52, 35, 68, 45, 55, 38, 72, 58, 62, 50, 72, 58, 66, 48, 76, 60, 52, 70, 44, 64, 56, 74, 50, 60, 68, 46, 78, 54, 66, 72, 58, 62, 76, 52, 70, 64, 60, 74, 56, 68, 78, 50, 66, 62, 72, 56, 80, 60, 52, 76, 58, 64, 70, 48, 62, 74, 54, 66, 58, 80, 50,
  12, 28, 8, 20, 34, 14, 30, 22, 18, 14, 26, 8, 4, 36, 28, 12, 11, 3, 17, 6, 17, 24, 25, 36, 15, 32, 17, 15, 25, 15, 8, 25, 15, 8, 14, 28,
  94, 98, 114, 111, 114, 107, 92, 81, 86, 109, 107, 92, 132, 107, 104, 125, 150, 118, 131, 111, 103, 114, 92, 92, 131, 117, 135, 122, 131, 144, 142, 111, 103, 82, 92, 92, 97, 81,
  72, 58, 66, 50, 78, 44, 70, 56, 62, 48, 76, 54, 68, 42, 80, 58, 64, 50, 72, 46, 84, 60, 52, 74, 40, 66, 56, 78, 48, 62, 80, 44, 70, 54, 60, 76, 50, 68, 42, 72, 58, 82, 46, 64, 74, 38, 60,
  30, 18, 34, 10, 28, 38, 14, 32, 20, 36, 12, 30, 24, 8, 22, 35, 16,
  128, 120, 95, 135, 105, 85, 112, 72, 128, 96, 60, 110, 48, 84, 40, 70, 56, 34, 64, 82, 44, 76, 30, 70, 50, 24, 62, 80, 36, 68, 20, 58, 44];

// cumulative rain, the axis only labels zero so the step height is relative
var rainTime = [0, 13.18, 13.18, 24];
var rainParsivel = [0, 0, 1, 1];
var rainStationTime = [0, 24];
var rainStation = [0, 0];

var zhColors = [[0, "#dcdcdc"], [0.143, "#8a8aff"], [0.286, "#0000ff"], [0.357, "#0078a0"], [0.429, "#00b050"], [0.5, "#30f000"], [0.571, "#c8f000"], [0.62, "#ffff00"], [0.714, "#ff9000"], [0.857, "#ff0000"], [0.93, "#b00050"], [1, "#7a0088"]];
var velColors = [[0, "#3b4cc0"], [0.125, "#6282ea"], [0.25, "#8db0fe"], [0.375, "#b8d0f9"], [0.5, "#dddcdc"], [0.625, "#f5c4ac"], [0.75, "#f49a7b"], [0.875, "#d44e41"], [1, "#b40426"]];

var FONT = "DejaVu Sans";
var W = 1600, H = 1000;
var COL_LEFT = [91, 887], COL_WIDTH = 597;
var ROW_TOP = [120.5, 417.5, 715.5], ROW_HEIGHT = 216;
var TICK_SIZE = 16.4, LABEL_SIZE = 19.4, TITLE_SIZE = 16.6;

// pixel helpers, the margins are zero so paper coords cover the whole figure
function px(x){ return x / W; }
function py(y){ return 1 - y / H; }
function domX(c){ return [px(COL_LEFT[c]), px(COL_LEFT[c] + COL_WIDTH)]; }
function domY(r){ return [py(ROW_TOP[r] + ROW_HEIGHT), py(ROW_TOP[r])]; }

// time columns about one pixel wide, range gates 25 m high
function emptyGrid(){
    var grid = {x: [], y: [], z: []};
    for (let c = 0; c < 24 * 24; c++){ grid.x.push(c / 24); }
    for (let r = 0; r < 100; r++){
        grid.y.push(r * 25 + 12.5);
        grid.z.push(new Array(grid.x.length).fill(null));
    }
    return grid;
}

function paint(grid, t0, t1, base, top, v){
    var c0 = Math.round(t0 * 24), c1 = Math.round(t1 * 24);
    var r0 = Math.floor(base / 25), r1 = Math.ceil(top / 25);
    for (let r = r0; r < r1 && r < 100; r++){
        for (let c = c0; c <= c1 && c < grid.x.length; c++){
            grid.z[r][c] = v;
        }
    }
}

function steps(n, dt){
    var out = [];
    for (let i = 0; i < n; i++){ out.push(i * dt); }
    return out;
}

var zhGrid = emptyGrid();
zhColumnTop.forEach(function(top, i){
    if (top > 0){ paint(zhGrid, zhColumnStart + i * 0.1, zhColumnStart + i * 0.1 + 0.08, 200, top, -49); }
});
zhStreakTime.forEach(function(t, i){ paint(zhGrid, t, t, zhStreakBase[i], zhStreakTop[i], zhStreakValue[i]); });
zhDotTime.forEach(function(t, i){ paint(zhGrid, t, t, zhDotAlt[i], zhDotAlt[i] + 40, zhDotValue[i]); });

var velGrid = emptyGrid();
velColumnTop.forEach(function(top, i){
    if (top > 0){ paint(velGrid, velColumnStart + i * 0.1, velColumnStart + i * 0.1 + 0.08, 200, top, velColumnValue[i]); }
});
velStreakTime.forEach(function(t, i){ paint(velGrid, t, t, velStreakBase[i], velStreakTop[i], velStreakValue[i]); });
velDotTime.forEach(function(t, i){ paint(velGrid, t, t, velDotAlt[i], velDotAlt[i] + 50, velDotValue[i]); });

// put the in-between samples back in time order
var windTimeAll = [], windSpeedAll = [];
windSpeed.forEach(function(v, i){
    var t = i / 12;
    windTimeAll.push(t);
    windSpeedAll.push(v);
    var k = Math.round((t - windBetweenStart) * 12);
    if (k >= 0 && k < windBetween.length){
        windTimeAll.push(t + 1 / 24);
        windSpeedAll.push(windBetween[k]);
    }
});

function timeAxis(c, r, labelled){
    return {
        domain: domX(c), anchor: r, range: [0, 24],
        tickmode: "array", tickvals: hourTicks, ticktext: hourLabels, showticklabels: labelled, ticklabelstandoff: -3,
        ticks: "outside", ticklen: 5, tickcolor: "#000", showline: true, linecolor: "#000", linewidth: 1.3, mirror: true,
        showgrid: true, gridcolor: "#d3d3d3", griddash: "dash", gridwidth: 1, zeroline: false,
        tickfont: {size: TICK_SIZE, color: "#000"},
        minor: {tickmode: "array", tickvals: hourMinor, ticks: "outside", ticklen: 3, tickcolor: "#000", showgrid: false}
    };
}

function valueAxis(r, c, range, dtick, minorDtick){
    return {
        domain: domY(r), anchor: c, range: range, tick0: 0, dtick: dtick,
        ticks: "outside", ticklen: 5, tickcolor: "#000", showline: true, linecolor: "#000", linewidth: 1.3, mirror: true,
        showgrid: true, gridcolor: "#d3d3d3", griddash: "dash", gridwidth: 1, zeroline: false,
        tickfont: {size: TICK_SIZE, color: "#000"},
        minor: {dtick: minorDtick, tick0: 0, ticks: "outside", ticklen: 3, tickcolor: "#000", showgrid: false}
    };
}

function axisTitle(text, standoff){
    return {text: text, font: {size: LABEL_SIZE, color: "#000"}, standoff: standoff};
}

function panelTitle(text, x, y){
    return {text: "<i>" + text + "</i>", xref: "paper", yref: "paper", x: px(x), y: py(y), showarrow: false,
            xanchor: "center", yanchor: "middle", font: {size: TITLE_SIZE, color: "#000"}};
}

function legendAt(x, y, bg){
    return {x: px(x), y: py(y), xanchor: "left", yanchor: "top", bgcolor: bg || "rgba(255,255,255,0.8)", bordercolor: "#cccccc",
            borderwidth: 1, font: {size: 16.6, color: "#000"}, itemwidth: 44, tracegroupgap: 4};
}

function colorBar(x, title, tickvals){
    return {
        x: px(x), xanchor: "left", xpad: 0, ypad: 0, y: py(229), yanchor: "middle",
        lenmode: "pixels", len: 196, thicknessmode: "pixels", thickness: 18.5,
        outlinewidth: 1, outlinecolor: "#000", tickmode: "array", tickvals: tickvals,
        ticks: "outside", ticklen: 5, tickcolor: "#000", tickfont: {size: TICK_SIZE, color: "#000"},
        title: {text: title, side: "right", font: {size: 16.6, color: "#000"}}
    };
}

var data = [
    {type: "heatmap", x: zhGrid.x, y: zhGrid.y, z: zhGrid.z, xaxis: "x", yaxis: "y", zmin: -50, zmax: 20, colorscale: zhColors,
     hoverongaps: false, colorbar: colorBar(707, "Zh [<i>dBZ</i>]", [-50, -30, -10, 10])},
    {type: "heatmap", x: velGrid.x, y: velGrid.y, z: velGrid.z, xaxis: "x2", yaxis: "y2", zmin: -4, zmax: 4, colorscale: velColors,
     hoverongaps: false, colorbar: colorBar(1503, "Velocity [<i>m.s</i><sup>−1</sup>]", [-4, -2, 0, 2, 4])},
    {type: "scatter", mode: "lines", name: "ta", x: steps(temperature.length, 1 / 6), y: temperature, xaxis: "x3", yaxis: "y3",
     line: {color: "#0ea5fb", width: 2.8}, legend: "legend", showlegend: true},
    {type: "scatter", mode: "lines", name: "rh", x: steps(humidity.length, 1 / 6), y: humidity, xaxis: "x3", yaxis: "y7",
     line: {color: "#ffa500", width: 3.2}, legend: "legend2", showlegend: true},
    {type: "scatter", mode: "lines", name: "Wind Speed", x: windTimeAll, y: windSpeedAll, xaxis: "x4", yaxis: "y4",
     line: {color: "#ff0000", width: 3}, legend: "legend3", showlegend: true},
    {type: "scatter", mode: "markers", name: "Wind Direction", x: dirTime, y: dirValue, xaxis: "x4", yaxis: "y8",
     marker: {color: "#008000", size: 6.5}, legend: "legend4", showlegend: true},
    {type: "scatter", mode: "lines", name: "OTT HydroMet Parsivel2", x: rainTime, y: rainParsivel, xaxis: "x5", yaxis: "y5",
     line: {color: "#f58c64", width: 2.8}, legend: "legend5", showlegend: true},
    {type: "scatter", mode: "lines", name: "Weather Station", x: rainStationTime, y: rainStation, xaxis: "x5", yaxis: "y5",
     line: {color: "#9a9a9a", width: 2.8}, legend: "legend5", showlegend: true},
    {type: "scatter", mode: "lines", x: [], y: [], xaxis: "x6", yaxis: "y6", showlegend: false}
];

var yTemp = valueAxis(1, "x3", [12.37, 32.6], 2, 1);
yTemp.title = axisTitle("Temperature [<i><sup>o</sup>C</i>]", 27);

var yHum = valueAxis(1, "x3", [20, 87.5], 5, 5);
yHum.overlaying = "y3"; yHum.side = "right"; yHum.showgrid = false; yHum.mirror = false;
yHum.minor = {ticks: ""};
yHum.title = axisTitle("Relative Humidity [<i>%</i>]", 9);

var yWind = valueAxis(1, "x4", [-0.2, 5.3], 2, 1);
yWind.title = axisTitle("Wind Speed [<i>m.s</i><sup>−1</sup>]", 41);

var yDir = valueAxis(1, "x4", [0, 360], 60, 60);
yDir.overlaying = "y4"; yDir.side = "right"; yDir.showgrid = false; yDir.mirror = false;
yDir.minor = {ticks: ""};
yDir.title = axisTitle("Wind Direction [<i><sup>o</sup></i>]", 9);

var yRain = valueAxis(2, "x5", [-0.048, 1.042], 2, 2);
yRain.tickvals = [0]; yRain.tickmode = "array"; yRain.minor = {ticks: ""};
yRain.title = axisTitle("Cumulative rainfall [<i>mm</i>]", 36);

var yAltA = valueAxis(0, "x", [0, 2500], 500, 100);
yAltA.title = axisTitle("Altitude [m AGL]", 5);
var yAltB = valueAxis(0, "x2", [0, 2500], 500, 100);
yAltB.title = axisTitle("Altitude [m AGL]", 5);

var yFall = valueAxis(2, "x6", [0, 10], 2, 1);
yFall.title = axisTitle("Fall speed [<i>m.s</i><sup>−1</sup>]", 36);

var xWind = timeAxis(1, "y4", true);
xWind.title = axisTitle("Time [UTC]", 9);
var xRain = timeAxis(0, "y5", true);
xRain.title = axisTitle("Time [UTC]", 9);
var xFit = valueAxis(2, "y6", [0, 5], 1, 0.2);
xFit.domain = domX(1);
xFit.ticklabelstandoff = -3;
xFit.title = axisTitle("Diameter [<i>mm</i>]", 9);

// ACTRIS logo, the arc fades from teal to navy
var arcX = [1306.7, 1323.3, 1340, 1356.7, 1373.3, 1390, 1406.7, 1423.3, 1440, 1451.7];
var arcY = [49.3, 36.7, 27.3, 20.9, 17.9, 18.7, 23, 31, 41.7, 49.3];
var arcColors = ["#7fcbc4", "#58b3b4", "#3a9cab", "#2a8699", "#245f7c", "#1a3a60", "#131f4a", "#0d1240", "#0d1240"];
var logoShapes = [];
for (let i = 0; i < arcColors.length; i++){
    // quadratic through the point, from one midpoint to the next
    let sx = i == 0 ? arcX[0] : (arcX[i - 1] + arcX[i]) / 2;
    let sy = i == 0 ? arcY[0] : (arcY[i - 1] + arcY[i]) / 2;
    let ex = (arcX[i] + arcX[i + 1]) / 2, ey = (arcY[i] + arcY[i + 1]) / 2;
    if (i == arcColors.length - 1){ ex = arcX[i + 1]; ey = arcY[i + 1]; }
    logoShapes.push({type: "path", xref: "paper", yref: "paper", line: {color: arcColors[i], width: i < 2 ? 2.4 : 3},
        path: "M" + px(sx) + "," + py(sy) + " Q" + px(arcX[i]) + "," + py(arcY[i]) + " " + px(ex) + "," + py(ey)});
}
var barStops = [2, 10, 18, 26, 53];
var barColors = ["#d8d9e4", "#9a9cb8", "#55577f", "#0d1240"];
for (let i = 0; i < barColors.length; i++){
    logoShapes.push({type: "line", xref: "paper", yref: "paper", x0: px(1423), y0: py(barStops[i]), x1: px(1423), y1: py(barStops[i + 1]),
                     line: {color: barColors[i], width: 2.4}});
}

function triangle(x0, yBase, yTip, color){
    return {type: "path", xref: "paper", yref: "paper", fillcolor: color, line: {color: "#000", width: 1},
            path: "M" + px(x0) + "," + py(yBase) + " L" + px(x0 + 9.25) + "," + py(yTip) + " L" + px(x0 + 18.5) + "," + py(yBase) + " Z"};
}

var logoLetters = ["A", "C", "T", "R", "I", "S"];
var logoLetterX = [1307, 1338, 1371, 1403, 1423, 1444];
var annotations = [
    {text: "Measurement site: SIRTA (48.717N, 2.209E, 156m)", xref: "paper", yref: "paper", x: px(800), y: py(28.6), showarrow: false,
     xanchor: "center", yanchor: "middle", font: {size: 22.2, color: "#000"}},
    {text: "02-08-2026", xref: "paper", yref: "paper", x: px(800), y: py(52), showarrow: false,
     xanchor: "center", yanchor: "middle", font: {size: 22.2, color: "#000"}},
    panelTitle("DCR - BASTA", 389, 106),
    panelTitle("DCR - BASTA", 1185, 106),
    panelTitle("weather station", 389, 403),
    panelTitle("weather station", 1185, 403),
    panelTitle("Disdrometer and Weather station", 389, 700),
    panelTitle("Relationship disdrometer fall speed / drop size", 1185, 700),
    {text: "<i>No fit</i>", xref: "x6", yref: "y6", x: 2, y: 4, showarrow: false, xanchor: "left", yanchor: "bottom", yshift: -4, xshift: -2,
     font: {size: 19.2, color: "#000"}},
    {text: "CCRES", xref: "paper", yref: "paper", x: px(1377), y: py(95), showarrow: false, xanchor: "center", yanchor: "middle",
     font: {family: "Lato", size: 16.5, color: "#0d1240"}}
];
logoLetters.forEach(function(letter, i){
    annotations.push({text: "<b>" + letter + "</b>", xref: "paper", yref: "paper", x: px(logoLetterX[i]), y: py(66.5), showarrow: false, xanchor: "center", yanchor: "middle",
                      font: {family: "Lato", size: 29, color: "#0d1240"}});
});

var layout = {
    width: W, height: H, margin: {l: 0, r: 0, t: 0, b: 0}, paper_bgcolor: "#fff", plot_bgcolor: "#fff",
    font: {family: FONT, color: "#000"}, showlegend: true,
    xaxis: timeAxis(0, "y", false), yaxis: yAltA,
    xaxis2: timeAxis(1, "y2", false), yaxis2: yAltB,
    xaxis3: timeAxis(0, "y3", false), yaxis3: yTemp,
    xaxis4: xWind, yaxis4: yWind,
    xaxis5: xRain, yaxis5: yRain,
    xaxis6: xFit, yaxis6: yFall,
    yaxis7: yHum, yaxis8: yDir,
    legend: legendAt(100, 424, "rgba(255,255,255,0)"),
    legend2: legendAt(594, 435),
    legend3: legendAt(895, 427, "rgba(255,255,255,0)"),
    legend4: legendAt(1294, 427),
    legend5: legendAt(420, 866),
    annotations: annotations,
    shapes: logoShapes.concat([
        triangle(707, 131, 121, "#7a0088"), triangle(707, 327, 336.5, "#dcdcdc"),
        triangle(1503, 131, 121, "#b40426"), triangle(1503, 327, 336.5, "#3b4cc0")
    ])
};

Plotly.newPlot("chart", data, layout, {displayModeBar: false});
</script>
</body>
</html>
